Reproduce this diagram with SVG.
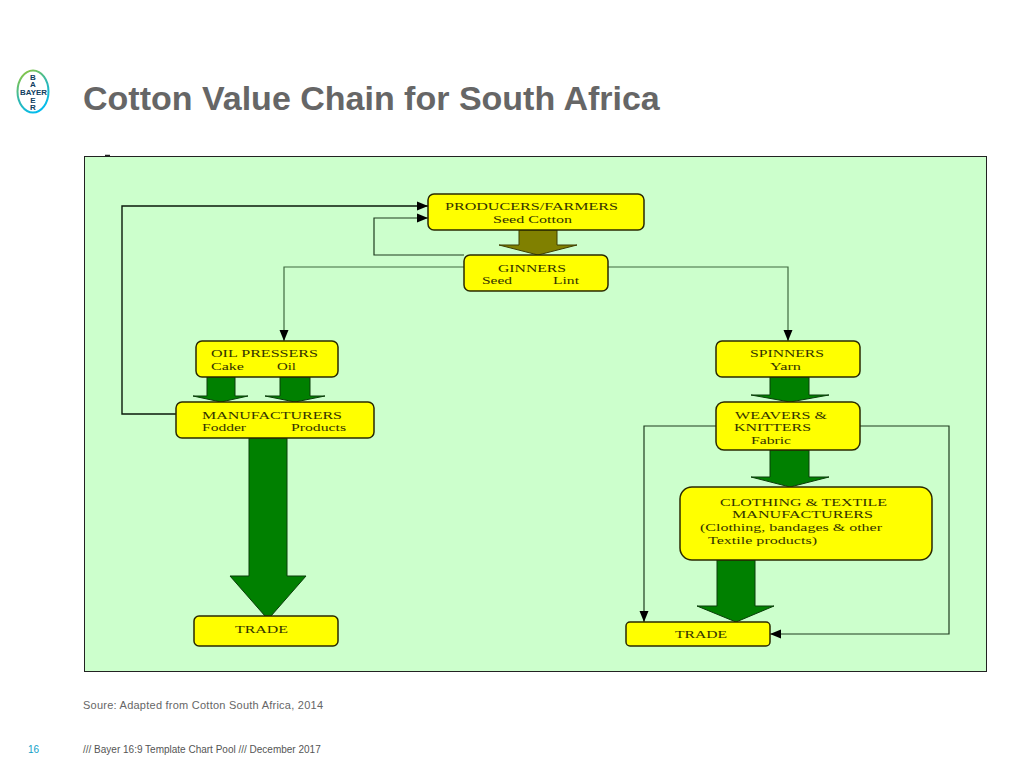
<svg xmlns="http://www.w3.org/2000/svg" width="1024" height="770" viewBox="0 0 1024 770">
<style>
.node{fill:#ffff00;stroke:#2a2a00;stroke-width:1.5}
.t{font-family:"Liberation Serif","Times New Roman",serif;font-size:11.2px;fill:#333300}
.arrow{fill:#008000;stroke:#0a3d0a;stroke-width:1}
.conn{fill:none;stroke:#1f3d1f;stroke-width:1.2}
.lite{stroke:#3f6a3f;stroke-width:1.2}
.heavy{stroke:#0a1a0a;stroke-width:1.4}
.ss{font-family:"Liberation Sans",Arial,sans-serif}
.logo{font-family:"Liberation Sans",Arial,sans-serif;font-size:8px;font-weight:bold;fill:#10405f}
.v{writing-mode:vertical-rl;text-orientation:upright;letter-spacing:-1.6px;text-anchor:start}
</style>
<defs>
<linearGradient id="lg" x1="0.2" y1="0" x2="0.7" y2="1"><stop offset="0" stop-color="#8cc63f"/><stop offset="0.5" stop-color="#30b8b0"/><stop offset="1" stop-color="#00bcf2"/></linearGradient>
<marker id="ah" markerUnits="userSpaceOnUse" markerWidth="11" markerHeight="10" refX="11" refY="5" orient="auto"><path d="M0,0.500L11,5L0,9.500Z" fill="#000"/></marker>
</defs>
<rect width="1024" height="770" fill="#fff"/>
<g id="logo">
<ellipse cx="33" cy="91.500" rx="15.500" ry="21" fill="#fff" stroke="url(#lg)" stroke-width="2"/>
<text class="logo v" x="33" y="73">BA</text>
<text class="logo" x="20" y="95" textLength="27" lengthAdjust="spacingAndGlyphs">BAYER</text>
<text class="logo v" x="33" y="96">ER</text>
</g>
<text id="title" class="ss" x="83" y="110" font-size="34" font-weight="bold" fill="#666">Cotton Value Chain for South Africa</text>
<rect id="panel" x="84.500" y="156.500" width="902" height="515" fill="#ccffcc" stroke="#222" stroke-width="1"/>
<path d="M105,155.500h5" stroke="#222" stroke-width="1.500"/>
<g id="connectors">
<path class="conn heavy" marker-end="url(#ah)" d="M176,414H122V206H428"/>
<path class="conn" marker-end="url(#ah)" d="M464,255H374V218H428"/>
<path class="conn lite" marker-end="url(#ah)" d="M464,267H284V341"/>
<path class="conn lite" marker-end="url(#ah)" d="M608,267H788V341"/>
<path class="conn" marker-end="url(#ah)" d="M716,426H644V622"/>
<path class="conn" marker-end="url(#ah)" d="M860,426H949V634H770"/>
</g>
<g id="block-arrows">
<path d="M519,230H557V245H577L538,255L499,245H519Z" fill="#808000" stroke="#3d3d00"/>
<path class="arrow" d="M207,377H235V396H248L221,402L193,396H207Z"/>
<path class="arrow" d="M280,377H310V396H325L295,402L265,396H280Z"/>
<path class="arrow" d="M249,438H287V576H306L271,616H265L230,576H249Z"/>
<path class="arrow" d="M770,377H809V395H829L790,402L751,395H770Z"/>
<path class="arrow" d="M770,450H809V477H829L790,487L751,477H770Z"/>
<path class="arrow" d="M717,560H755V606H774L736,622L697,606H717Z"/>
</g>
<g id="producers"><rect class="node" x="428" y="194" width="216" height="36" rx="6"/>
<text class="t" x="445" y="210" textLength="173" lengthAdjust="spacingAndGlyphs">PRODUCERS/FARMERS</text><text class="t" x="493" y="223" textLength="79" lengthAdjust="spacingAndGlyphs">Seed Cotton</text></g>
<g id="ginners"><rect class="node" x="464" y="255" width="144" height="36" rx="6"/>
<text class="t" x="498" y="271.500" textLength="68" lengthAdjust="spacingAndGlyphs">GINNERS</text><text class="t" x="482" y="284" textLength="30" lengthAdjust="spacingAndGlyphs">Seed</text><text class="t" x="553" y="284" textLength="26" lengthAdjust="spacingAndGlyphs">Lint</text></g>
<g id="oil-pressers"><rect class="node" x="196" y="341" width="142" height="36" rx="6"/>
<text class="t" x="211" y="357" textLength="107" lengthAdjust="spacingAndGlyphs">OIL PRESSERS</text><text class="t" x="211" y="369.500" textLength="33" lengthAdjust="spacingAndGlyphs">Cake</text><text class="t" x="277" y="369.500" textLength="19" lengthAdjust="spacingAndGlyphs">Oil</text></g>
<g id="manufacturers"><rect class="node" x="176" y="402" width="198" height="36" rx="6"/>
<text class="t" x="202" y="418.500" textLength="140" lengthAdjust="spacingAndGlyphs">MANUFACTURERS</text><text class="t" x="202" y="431" textLength="44" lengthAdjust="spacingAndGlyphs">Fodder</text><text class="t" x="291" y="431" textLength="55" lengthAdjust="spacingAndGlyphs">Products</text></g>
<g id="spinners"><rect class="node" x="716" y="341" width="144" height="36" rx="6"/>
<text class="t" x="750" y="357" textLength="74" lengthAdjust="spacingAndGlyphs">SPINNERS</text><text class="t" x="770" y="369.500" textLength="31" lengthAdjust="spacingAndGlyphs">Yarn</text></g>
<g id="weavers"><rect class="node" x="716" y="402" width="144" height="48" rx="8"/>
<text class="t" x="735" y="418.500" textLength="92" lengthAdjust="spacingAndGlyphs">WEAVERS &amp;</text><text class="t" x="734" y="431" textLength="77" lengthAdjust="spacingAndGlyphs">KNITTERS</text><text class="t" x="751" y="444" textLength="40" lengthAdjust="spacingAndGlyphs">Fabric</text></g>
<g id="clothing"><rect class="node" x="680" y="487" width="252" height="73" rx="12"/>
<text class="t" x="720" y="505.500" textLength="167" lengthAdjust="spacingAndGlyphs">CLOTHING &amp; TEXTILE</text><text class="t" x="732" y="518" textLength="141" lengthAdjust="spacingAndGlyphs">MANUFACTURERS</text><text class="t" x="700" y="531" textLength="182" lengthAdjust="spacingAndGlyphs">(Clothing, bandages &amp; other</text><text class="t" x="708" y="544" textLength="109" lengthAdjust="spacingAndGlyphs">Textile products)</text></g>
<g id="trade-left"><rect class="node" x="194" y="616" width="144" height="30" rx="5"/>
<text class="t" x="235" y="633" textLength="53" lengthAdjust="spacingAndGlyphs">TRADE</text></g>
<g id="trade-right"><rect class="node" x="626" y="622" width="144" height="24" rx="4"/>
<text class="t" x="675" y="638" textLength="52" lengthAdjust="spacingAndGlyphs">TRADE</text></g>
<text class="ss" x="83" y="709" font-size="11" fill="#666" textLength="240" lengthAdjust="spacing">Soure: Adapted from Cotton South Africa, 2014</text>
<text class="ss" x="28" y="753" font-size="10" fill="#10a0c8">16</text>
<text class="ss" x="83" y="753" font-size="10" fill="#555">/// Bayer 16:9 Template Chart Pool /// December 2017</text>
</svg>
